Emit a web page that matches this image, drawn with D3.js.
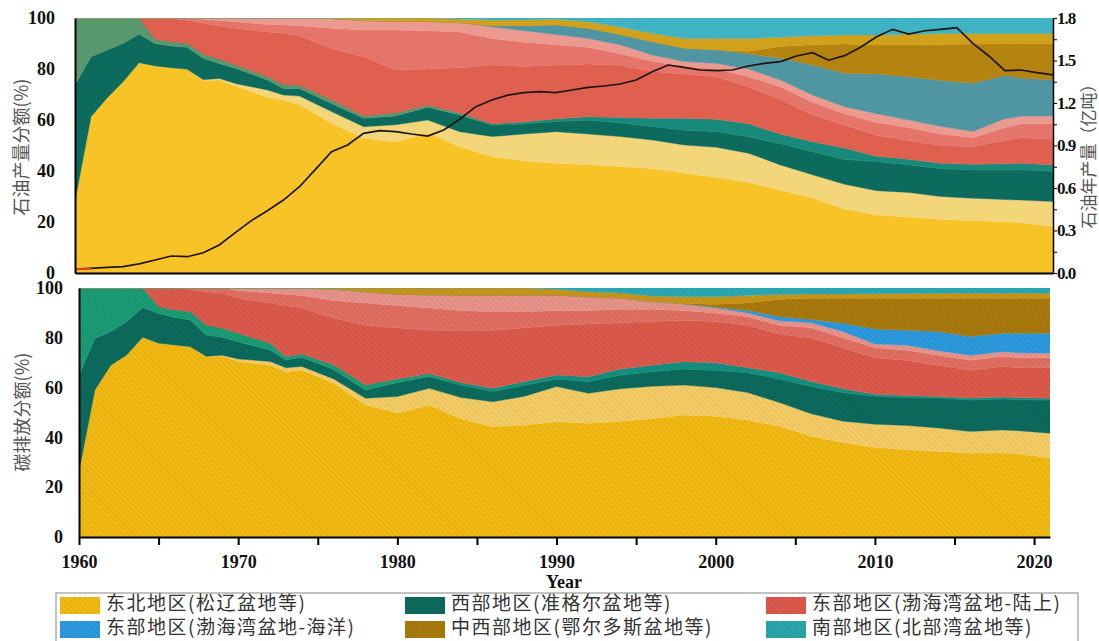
<!DOCTYPE html>
<html>
<head>
<meta charset="utf-8">
<script src="https://cdn.jsdelivr.net/npm/d3@7"></script>
<style>
  body { margin: 0; background: #fff; }
  svg text { font-family: "Liberation Serif", "DejaVu Serif", serif; }
  .cn { font-family: "Noto Sans CJK SC", sans-serif; }
  .num { font-weight: bold; font-size: 18px; fill: #111; }
</style>
</head>
<body>
<svg id="chart" width="1099" height="641"></svg>
<script>
const years = [1960,1961,1962,1963,1964,1965,1966,1967,1968,1969,1970,1972,1973,1974,1976,1978,1980,1982,1984,1986,1988,1990,1992,1994,1996,1998,2000,2002,2004,2006,2008,2010,2012,2014,2016,2018,2019,2021];

// top panel: oil production share (%), sub-basin layers bottom -> top
const topNE1 = [28,61.3,68.6,75,82.5,81.2,80.5,79.9,75.4,75.7,73.3,68.9,67.8,66,58.7,52.8,51.4,54.9,49.5,45.6,44,43,42.5,41.8,41,39.1,37.5,35.5,32.5,29.5,25,22.7,22,21.1,20.5,20.1,19.7,18.2];
const topNE2 = [0,0,0,0,0,0,0,0,0.4,0.6,1,2.9,2,3.4,4.6,4.6,6.7,5.1,5.9,7.9,10.5,12.4,12,11.7,11.2,11.1,11.8,11.5,9.9,9,9.8,9.6,9.6,8.9,8.8,8.7,8.9,9.8];
const topW1  = [45.7,23.5,18.9,15,11.2,8.8,8.5,8.6,8.4,5.9,6,3.9,2.6,3,3.2,3.3,3.5,5,6.6,4.5,4,4.1,5.5,5.5,5.3,5.9,6.2,6.5,8.4,9.1,9.8,11.5,10.9,11,11.2,11.7,11.9,12];
const topW2  = [26.3,15.2,12.5,10,6.3,1.6,1.7,1.5,1.6,1.6,1.3,1.3,1.4,1.2,1.3,0.9,1.1,0.8,0.5,0,0,0,0,0,0,0,0,0,0,0,0,0,0,0,0,0,0,0];
const topW3  = [0,0,0,0,0,0,0,0,0,0,0,0,0,0,0,0,0,0,0.2,0.5,0.7,1,1.3,2,3.2,4.6,4.8,5,3.7,3.9,4.4,2,2.1,2,2.1,2.3,2.5,2.4];
const topE1  = [0,0,0,0,0,8.4,9.3,9,12.2,13.2,14.4,17.5,20.2,19.4,20.2,23.2,16.9,14.2,17.8,23.1,21.8,21.1,20.7,20.5,18.3,17.3,16.7,14.5,13.5,10.5,9,8.2,7.4,7,6.9,9.2,10,10.1];
const topE2  = [0,0,0,0,0,0,0,1,1.5,2,2.5,3,3.3,4,8,10.5,15.7,15,14,10.4,9.5,7.9,6.5,4.5,4,3,3,4,5,5,4.5,5,5,4.5,3.5,5,5.5,6];
const topE3  = [0,0,0,0,0,0,0,0,0.5,1,1.5,2.5,2.7,3,3.8,3.7,3.5,3.6,3.7,4.5,4.5,4,3.5,3.5,2.5,1.9,2.2,3,2.7,2.8,2.7,3.5,3,3,2.5,3.5,3,3.1];
const topOFF = [0,0,0,0,0,0,0,0,0,0,0,0,0,0,0,0,0,0,0,0.5,2,3.8,4,4,5.2,5.2,5.3,6,8.5,11.8,13.1,15.5,17,18,18.9,17,15,14.1];
const topCW1 = [0,0,0,0,0,0,0,0,0,0,0,0,0,0,0,0,0,0,0,0,0,0,0,0,0,0,0,1,4.6,7.9,11.5,11.4,12.4,14.1,15.4,12.3,13.3,14.1];
const topCW2 = [0,0,0,0,0,0,0,0,0,0,0,0,0,0,0.2,1,1.2,1.4,1.4,2.2,2.2,2.2,2.5,3,3.3,3.9,4.5,5,3.7,3.5,3.5,3.9,4.2,4.3,4.1,4.1,4.1,4.1];
const topS   = [0,0,0,0,0,0,0,0,0,0,0,0,0,0,0,0,0,0,0.4,0.8,0.8,0.5,1.5,3.5,6,8,8,8,7.5,7,6.7,6.7,6.4,6.1,6.1,6.1,6.1,6.1];

// bottom panel: carbon emission share (%)
const botNE1 = [26.2,59,69,73.1,80.2,77.8,77.1,76.4,72.2,72.7,70.5,69.1,66.4,67.1,61.7,53,49.8,53,47.5,44.3,45,46.3,45.7,46.5,47.5,49,48.5,47,44.5,40.5,38,36,35,34.4,33.7,33.7,33.4,31.7];
const botNE2 = [0,0,0,0,0,0,0,0,0.3,0.3,1,1.4,1.6,1.4,1.8,2.7,6.6,6.7,8.5,10,11.5,14.1,12,13,13,12,11.5,11,9.5,9,8.5,9.3,9.8,9.4,8.7,9.3,9.3,10];
const botW1  = [38.8,20.8,13.5,13.4,12,12,11.1,10.7,8.6,7.2,6.9,4.6,3.1,3.7,3.8,3.3,5.6,4.8,5,4.2,4.5,3.1,4.8,5.5,6,6.5,7,8,9.5,11,11.5,11.2,11.2,12,12.6,12.5,12.5,13.3];
const botW2  = [35,20.2,17.5,13.5,7.8,2.7,3,3.4,4,3.6,3.4,2.7,1.3,1.3,1.8,2,1.5,0.5,0,0,0,0,0,0,0,0,0,0,0,0,0,0,0,0,0,0,0,0];
const botW3  = [0,0,0,0,0,0,0,0,0,0,0,0,0,0,0,0,0,0.7,1,1.2,1.5,1.6,1.9,2.5,2.5,2.9,3,2,2.5,2,1.5,0.8,0.8,0.6,0.8,0.7,0.8,0.7];
const botE1  = [0,0,0,0,0,7.5,8.8,9,13.4,14.2,14.2,16.2,20.6,18.5,18.9,24,20.5,17.3,21,23.3,21.5,19.9,21.1,18.5,17.5,16.6,16.5,17,15.5,17.5,16.5,14.7,14.2,12.6,11.2,12.3,12,12.3];
const botE2  = [0,0,0,0,0,0,0,0.5,1.5,2,3,4,4.5,5,7,9,9,9,8,7.5,6.5,6,5.5,5.5,5,4,3.5,3.5,3.5,4,4,4,4,4,4,4,4,4];
const botE3  = [0,0,0,0,0,0,0,0,0,0,1,2,2.5,3,4.5,4.5,4.5,5.3,6.2,6.7,6.7,6.2,5.5,4.5,3,2.5,2,1.5,1.8,2,2.5,1.5,2,1.8,2,1.9,2,1.8];
const botOFF = [0,0,0,0,0,0,0,0,0,0,0,0,0,0,0,0,0,0,0,0,0,0,0,0,0.1,0.2,0.3,1,1.7,1.3,3.3,6,6,7.7,7.5,7.4,7.8,8];
const botCW1 = [0,0,0,0,0,0,0,0,0,0,0,0,0,0,0,0,0,0,0,0,0,0,0,0,0,0,1.2,3,7,8.6,10.1,12.4,12.9,13.4,15.4,14.1,14.1,14.1];
const botCW2 = [0,0,0,0,0,0,0,0,0,0,0,0,0,0,0.5,1.5,2.5,2.7,2.8,2.8,2.8,2.3,2,2,2.2,2.8,3,3,1.9,1.7,1.7,1.8,1.9,2,2,2,2,2];
const botS   = [0,0,0,0,0,0,0,0,0,0,0,0,0,0,0,0,0,0,0,0,0,0.5,1.5,2,3.2,3.5,3.5,3,2.6,2.4,2.4,2.3,2.2,2.1,2.1,2.1,2.1,2.1];

// annual oil production (亿吨), 1960-2021
const prodYears = d3.range(1960, 2022);
const production = [0.026,0.033,0.04,0.045,0.064,0.092,0.12,0.115,0.143,0.198,0.285,0.37,0.44,0.515,0.609,0.732,0.856,0.904,0.986,1.005,0.998,0.981,0.967,1.009,1.085,1.174,1.221,1.256,1.273,1.28,1.273,1.292,1.31,1.32,1.334,1.362,1.421,1.468,1.452,1.433,1.428,1.433,1.461,1.48,1.492,1.532,1.555,1.502,1.534,1.593,1.668,1.72,1.687,1.71,1.72,1.732,1.621,1.532,1.428,1.433,1.414,1.398];

const shareTicks = [0, 20, 40, 60, 80, 100];
const prodTicks = d3.range(13).map(i => i * 0.15);
const yearTicks = d3.range(1960, 2021, 5);
const legendNames = ["东北地区(松辽盆地等)", "西部地区(准格尔盆地等)", "东部地区(渤海湾盆地-陆上)",
                     "东部地区(渤海湾盆地-海洋)", "中西部地区(鄂尔多斯盆地等)", "南部地区(北部湾盆地等)"];

const keys = ["ne1","ne2","w1","w2","w3","e1","e2","e3","off","cw1","cw2","s"];
const topSeries = [topNE1, topNE2, topW1, topW2, topW3, topE1, topE2, topE3, topOFF, topCW1, topCW2, topS];
const botSeries = [botNE1, botNE2, botW1, botW2, botW3, botE1, botE2, botE3, botOFF, botCW1, botCW2, botS];

const topColors = ["#f8c327","#f3d57a","#0c6b5d","#57996d","#178a7c","#e0604f","#e5746a","#ec9a90","#4f95a2","#b5830f","#d2a11b","#3fb2c3"];
const botColors = ["#f3ba13","#f5cd66","#0c6a5d","#1a9d74","#13907f","#dc5a4b","#e16f62","#e8948a","#2c9ade","#a9790c","#c99619","#2aa9b4"];
const legendColors = ["#f3ba13","#0c6a5d","#dc5a4b","#2c9ade","#a9790c","#2aa6a8"];

const svg = d3.select("#chart");
const defs = svg.append("defs");

function makeHatch(id, color) {
  const p = defs.append("pattern")
    .attr("id", id)
    .attr("patternUnits", "userSpaceOnUse")
    .attr("width", 4).attr("height", 4)
    .attr("patternTransform", "rotate(-45)");
  p.append("rect").attr("width", 4).attr("height", 4).attr("fill", color);
  p.append("line")
    .attr("x1", 1).attr("y1", 0).attr("x2", 1).attr("y2", 4)
    .attr("stroke", d3.color(color).darker(0.6))
    .attr("stroke-width", 1)
    .attr("stroke-opacity", 0.5);
  return "url(#" + id + ")";
}

function buildTable(series) {
  return years.map(function(yr, i) {
    let row = { year: yr };
    keys.forEach(function(k, j) { row[k] = series[j][i]; });
    return row;
  });
}

function drawStack(g, series, colors, x, y, hatched, prefix) {
  let stacked = d3.stack().keys(keys)(buildTable(series));
  let area = d3.area()
    .x(function(d) { return x(d.data.year); })
    .y0(function(d) { return y(d[0]); })
    .y1(function(d) { return y(d[1]); });

  g.selectAll("path.layer")
    .data(stacked)
    .enter()
    .append("path")
    .attr("class", "layer")
    .attr("d", area)
    .attr("fill", function(d, i) { return hatched ? makeHatch(prefix + keys[i], colors[i]) : colors[i]; })
    .attr("stroke", function(d, i) { return colors[i]; })
    .attr("stroke-width", 0.4);
}

function clip(id, x0, y0, w, h) {
  defs.append("clipPath").attr("id", id)
    .append("rect").attr("x", x0).attr("y", y0).attr("width", w).attr("height", h);
}

// ---------- top panel ----------
const xTop = d3.scaleLinear().domain([1960, 2021]).range([75, 1053]);
const yTop = d3.scaleLinear().domain([0, 100]).range([273, 18]);
const yProd = d3.scaleLinear().domain([0, 1.8]).range([273, 18]);

clip("clipTop", 75, 18, 978, 255);
let gTop = svg.append("g").attr("clip-path", "url(#clipTop)");
drawStack(gTop, topSeries, topColors, xTop, yTop, false, "t");

let prodLine = d3.line()
  .x(function(d, i) { return xTop(prodYears[i]); })
  .y(function(d) { return yProd(d); });

gTop.append("path")
  .attr("d", prodLine(production))
  .attr("fill", "none")
  .attr("stroke", "#1e1410")
  .attr("stroke-width", 1.7);

// first segment drawn in red as in the figure
gTop.append("path")
  .attr("d", prodLine(production.slice(0, 2)))
  .attr("fill", "none")
  .attr("stroke", "#e8402a")
  .attr("stroke-width", 2);

let axTopL = svg.append("g").attr("transform", "translate(75,0)")
  .call(d3.axisLeft(yTop).tickValues(shareTicks).tickSize(0).tickPadding(20));
axTopL.selectAll("text").attr("class", "num");
axTopL.select(".domain").attr("stroke-width", 2);

let axTopB = svg.append("g").attr("transform", "translate(0,273)")
  .call(d3.axisBottom(xTop).tickValues([]).tickSizeOuter(0));
axTopB.select(".domain").attr("stroke-width", 2);

let axTopR = svg.append("g").attr("transform", "translate(1053,0)")
  .call(d3.axisRight(yProd).tickValues(prodTicks).tickSize(4).tickSizeOuter(0).tickPadding(0)
    .tickFormat(function(d) { return Math.round(d * 100) % 30 === 0 ? d3.format(".1f")(d) : ""; }));
axTopR.selectAll("text").attr("class", "num").style("font-size", "17px").style("letter-spacing", "-1px");
axTopR.select(".domain").attr("stroke-width", 1.5);

svg.append("text").attr("class", "cn")
  .attr("transform", "translate(23,147) rotate(-90)")
  .attr("text-anchor", "middle").attr("dominant-baseline", "middle")
  .attr("font-size", 18).attr("fill", "#555")
  .text("石油产量分额(%)");

svg.append("text").attr("class", "cn")
  .attr("transform", "translate(1090,152) rotate(-90)")
  .attr("text-anchor", "middle").attr("dominant-baseline", "middle")
  .attr("font-size", 17).attr("fill", "#555")
  .text("石油年产量（亿吨）");

// ---------- bottom panel ----------
const xBot = d3.scaleLinear().domain([1960, 2021]).range([79, 1050]);
const yBot = d3.scaleLinear().domain([0, 100]).range([537, 288]);

clip("clipBot", 79, 288, 971, 249);
let gBot = svg.append("g").attr("clip-path", "url(#clipBot)");
drawStack(gBot, botSeries, botColors, xBot, yBot, true, "b");

let axBotL = svg.append("g").attr("transform", "translate(79,0)")
  .call(d3.axisLeft(yBot).tickValues(shareTicks).tickSize(0).tickPadding(16));
axBotL.selectAll("text").attr("class", "num");
axBotL.select(".domain").attr("stroke-width", 2);

let axBotB = svg.append("g").attr("transform", "translate(0,537)")
  .call(d3.axisBottom(xBot).tickValues(yearTicks).tickSize(8).tickSizeOuter(0).tickPadding(10)
    .tickFormat(function(d) { return d % 10 === 0 ? d : ""; }));
axBotB.selectAll("text").attr("class", "num").attr("font-size", 19);
axBotB.selectAll(".tick line").attr("stroke-width", 2);
axBotB.select(".domain").attr("stroke-width", 2);

svg.append("text")
  .attr("x", 564).attr("y", 588)
  .attr("text-anchor", "middle")
  .attr("font-weight", "bold").attr("font-size", 18).attr("fill", "#111")
  .text("Year");

svg.append("text").attr("class", "cn")
  .attr("transform", "translate(24,412) rotate(-90)")
  .attr("text-anchor", "middle").attr("dominant-baseline", "middle")
  .attr("font-size", 18).attr("fill", "#555")
  .text("碳排放分额(%)");

// ---------- legend ----------
let legend = svg.append("g");
legend.append("rect")
  .attr("x", 56).attr("y", 593).attr("width", 1022).attr("height", 60)
  .attr("fill", "none").attr("stroke", "#9a9a9a").attr("stroke-width", 1.2);

const colX = [60, 405, 766];
const rowY = [605, 629];
legendNames.forEach(function(name, i) {
  let cx = colX[i % 3], cy = rowY[Math.floor(i / 3)];
  legend.append("rect")
    .attr("x", cx).attr("y", cy - 8).attr("width", 40).attr("height", 17)
    .attr("fill", makeHatch("lg" + i, legendColors[i]));
  legend.append("text").attr("class", "cn")
    .attr("x", cx + 46).attr("y", cy)
    .attr("dominant-baseline", "middle")
    .attr("font-size", 19).attr("fill", "#333")
    .style("letter-spacing", "1.5px")
    .text(name);
});
</script>
</body>
</html>
